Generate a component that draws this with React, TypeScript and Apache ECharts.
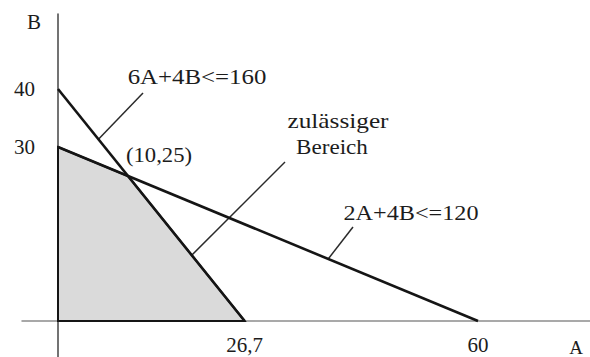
import React, { useEffect, useRef } from "react";
import * as echarts from "echarts";

// ---- data ----
const CONSTRAINT_1: number[][] = [[0, 40], [26.67, 0]]; // 6A+4B<=160
const CONSTRAINT_2: number[][] = [[0, 30], [60, 0]]; // 2A+4B<=120
const FEASIBLE: number[][] = [[0, 0], [0, 30], [10, 25], [26.67, 0]];
const VERTEX: number[] = [10, 25];
const X_TICKS = [26.67, 60];
const X_TICK_LABELS = ["26,7", "60"];
const Y_TICKS = [30, 40];
const Y_TICK_LABELS = ["30", "40"];
const LABEL_C1 = "6A+4B<=160";
const LABEL_C2 = "2A+4B<=120";
const LABEL_REGION = ["zulässiger", "Bereich"];
const LABEL_VERTEX = "(10,25)";
const X_NAME = "A";
const Y_NAME = "B";
// leader touch points (A value on each constraint line; point inside region)
const TOUCH_A_C1 = 5.78;
const TOUCH_A_C2 = 38.6;
const REGION_POINT: number[] = [16, 7.6];

// ---- layout ----
const W = 590;
const H = 357;
const ORIGIN_X = 58;
const ORIGIN_Y = 321;
const KX = 7.0;
const KY = 5.8;
const GRID_LEFT = 22;
const GRID_TOP = 14;
const FONT = "Liberation Serif, Times New Roman, serif";
const TXT = "#1c1c1c";

export default function App() {
  const ref = useRef<HTMLDivElement>(null);
  useEffect(() => {
    document.body.style.margin = "0";
    const chart = echarts.init(ref.current!, undefined, { renderer: "svg" });
    const xMin = -(ORIGIN_X - GRID_LEFT) / KX;
    const xMax = (W - ORIGIN_X) / KX;
    const yMax = (ORIGIN_Y - GRID_TOP) / KY;
    const yMin = -(H - ORIGIN_Y) / KY;
    const fmt = (ticks: number[], labels: string[]) => (v: number) => {
      const i = ticks.findIndex((t) => Math.abs(t - v) < 1e-6);
      return i >= 0 ? labels[i] : "";
    };
    chart.setOption({
      animation: false,
      backgroundColor: "#ffffff",
      grid: { left: GRID_LEFT, right: 0, top: GRID_TOP, bottom: 0, containLabel: false, outerBoundsMode: "none" },
      xAxis: {
        type: "value",
        min: xMin,
        max: xMax,
        name: X_NAME,
        nameLocation: "end",
        nameGap: -14,
        nameTextStyle: { fontFamily: FONT, fontSize: 19, color: TXT, align: "center", verticalAlign: "top", padding: [17, 0, 0, 0] },
        axisLine: { onZero: true, lineStyle: { color: "#8c8c8c", width: 1.5 } },
        axisTick: { show: false },
        splitLine: { show: false },
        axisLabel: {
          customValues: X_TICKS,
          formatter: fmt(X_TICKS, X_TICK_LABELS),
          fontFamily: FONT,
          fontSize: 21,
          color: TXT,
          margin: -(H - ORIGIN_Y) + 13,
        },
      },
      yAxis: {
        type: "value",
        min: yMin,
        max: yMax,
        name: Y_NAME,
        nameLocation: "end",
        nameGap: -8,
        nameTextStyle: { fontFamily: FONT, fontSize: 21, color: TXT, align: "right", verticalAlign: "middle", padding: [0, 17, 0, 0] },
        axisLine: { onZero: true, lineStyle: { color: "#444444", width: 1.5 } },
        axisTick: { show: false },
        splitLine: { show: false },
        axisLabel: {
          customValues: Y_TICKS,
          formatter: fmt(Y_TICKS, Y_TICK_LABELS),
          fontFamily: FONT,
          fontSize: 21,
          color: TXT,
          margin: -(ORIGIN_X - GRID_LEFT) + 23,
        },
      },
      series: [
        {
          type: "custom",
          data: [0],
          renderItem: (_p: any, api: any) => ({
            type: "polygon",
            shape: { points: FEASIBLE.map((p) => api.coord(p)) },
            style: { fill: "#dadada", stroke: "#151515", lineWidth: 2 },
          }),
          silent: true,
          z: 1,
        },
        {
          type: "line",
          data: CONSTRAINT_1,
          symbol: "none",
          lineStyle: { color: "#151515", width: 2.6 },
          z: 3,
        },
        {
          type: "line",
          data: CONSTRAINT_2,
          symbol: "none",
          lineStyle: { color: "#151515", width: 2.6 },
          z: 3,
        },
      ],
    });

    const px = (p: number[]) => chart.convertToPixel({ gridIndex: 0 }, p) as number[];
    const t1 = px([TOUCH_A_C1, (160 - 6 * TOUCH_A_C1) / 4]);
    const t2 = px([TOUCH_A_C2, (120 - 2 * TOUCH_A_C2) / 4]);
    const tr = px(REGION_POINT);
    const vx = px(VERTEX);
    const lead = { stroke: "#2a2a2a", lineWidth: 1.5 };
    const text = (s: string, x: number, y: number, sx: number) => ({
      type: "text",
      x,
      y,
      scaleX: sx,
      silent: true,
      style: { text: s, x: 0, y: 0, fontFamily: FONT, fontSize: 22, fill: TXT, align: "center", verticalAlign: "middle" },
    });
    chart.setOption({
      graphic: [
        { type: "line", shape: { x1: t1[0], y1: t1[1], x2: 143, y2: 93 }, style: lead, silent: true },
        { type: "line", shape: { x1: t2[0], y1: t2[1], x2: 353, y2: 227 }, style: lead, silent: true },
        { type: "line", shape: { x1: tr[0], y1: tr[1], x2: 285, y2: 162 }, style: lead, silent: true },
        text(LABEL_C1, 197, 77, 1.13),
        text(LABEL_C2, 411, 212, 1.1),
        text(LABEL_REGION[0], 338, 121, 1.15),
        text(LABEL_REGION[1], 332, 147, 1.05),
        text(LABEL_VERTEX, vx[0] + 31, vx[1] - 21, 1.03),
      ],
    });
    return () => chart.dispose();
  }, []);
  return <div ref={ref} style={{ position: "absolute", left: 0, top: 0, width: W, height: H }} />;
}
